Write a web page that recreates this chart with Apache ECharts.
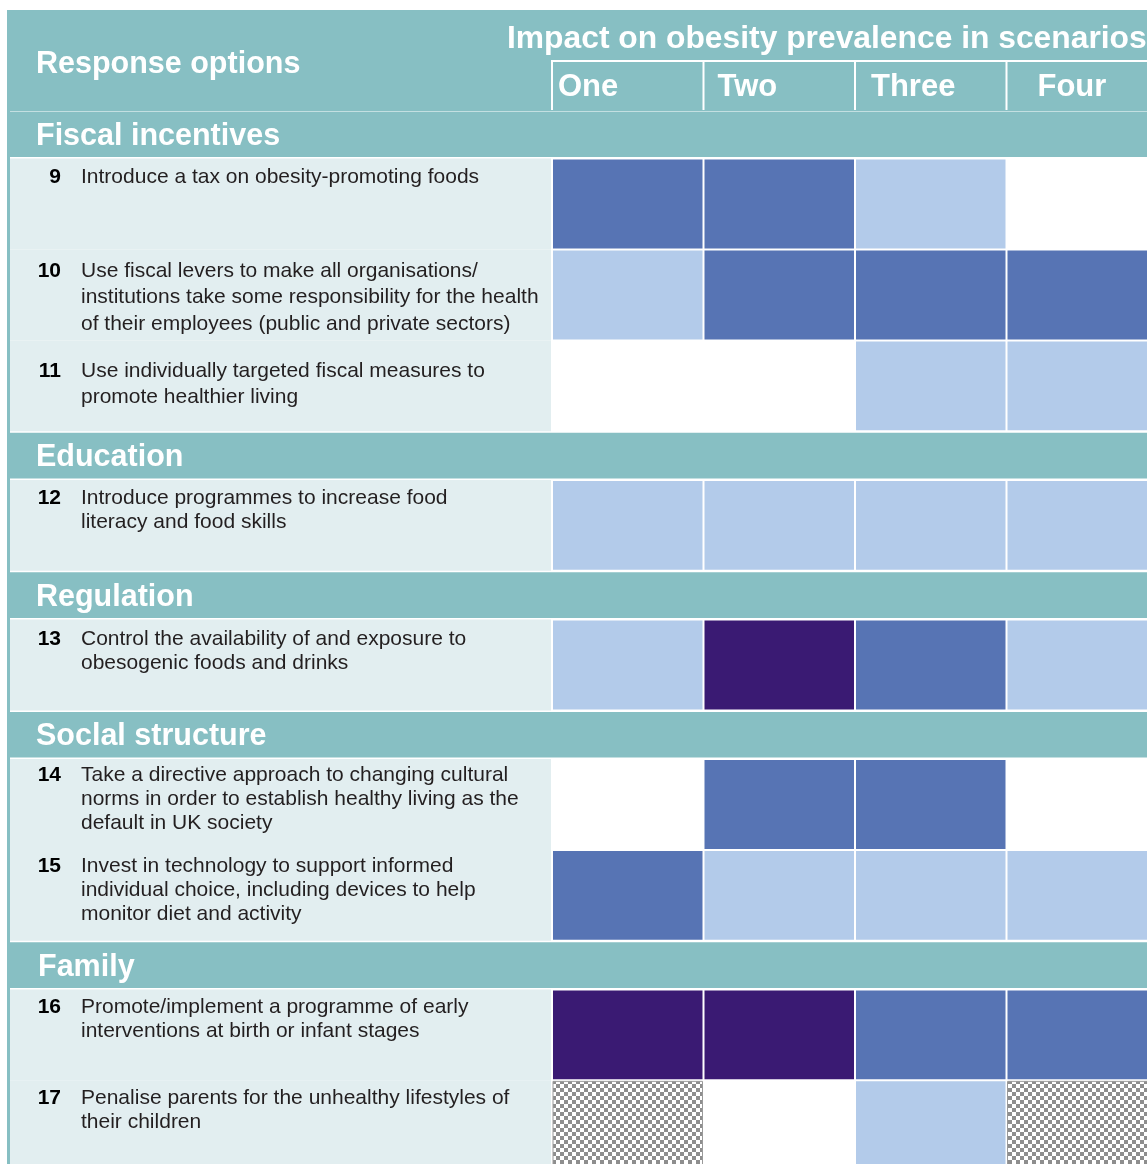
<!DOCTYPE html>
<html><head><meta charset="utf-8">
<script src="https://cdn.jsdelivr.net/npm/echarts@6/dist/echarts.min.js"></script>
<style>html,body{margin:0;padding:0;background:#fff}#c{width:1147px;height:1164px}</style>
</head><body><div id="c"></div>
<script>
// ---------------- DATA ----------------
const scenarios = ['One', 'Two', 'Three', 'Four'];
const tableTitle = 'Response options';
const impactTitle = 'Impact on obesity prevalence in scenarios';
const groups = ['Fiscal incentives', 'Education', 'Regulation', 'Soclal structure', 'Family'];
const optionNumbers = ['9', '10', '11', '12', '13', '14', '15', '16', '17'];
const optionGroup = [0, 0, 0, 1, 2, 3, 3, 4, 4];
const optionTexts = [
  'Introduce a tax on obesity-promoting foods',
  'Use fiscal levers to make all organisations/\ninstitutions take some responsibility for the health\nof their employees (public and private sectors)',
  'Use individually targeted fiscal measures to\npromote healthier living',
  'Introduce programmes to increase food\nliteracy and food skills',
  'Control the availability of and exposure to\nobesogenic foods and drinks',
  'Take a directive approach to changing cultural\nnorms in order to establish healthy living as the\ndefault in UK society',
  'Invest in technology to support informed\nindividual choice, including devices to help\nmonitor diet and activity',
  'Promote/implement a programme of early\ninterventions at birth or infant stages',
  'Penalise parents for the unhealthy lifestyles of\ntheir children'
];
// impact level: 0 = none, 1 = some, 2 = significant, 3 = strong, -1 = adverse (hatched)
const impactOne   = [2, 1, 0, 1, 1, 0, 2, 3, -1];
const impactTwo   = [2, 2, 0, 1, 3, 2, 1, 3, 0];
const impactThree = [1, 2, 1, 1, 2, 2, 1, 2, 1];
const impactFour  = [0, 2, 1, 1, 1, 0, 1, 2, -1];

// ---------------- STYLE / LAYOUT ----------------
const impacts = [impactOne, impactTwo, impactThree, impactFour];
const TEAL = '#87bfc3', PANEL = '#e2eef0', TEXT = '#231f20';
const levelColor = { 0: null, 1: '#b3cbea', 2: '#5774b4', 3: '#3a1a73' };
const FONT = '"Liberation Sans", Arial, sans-serif';
const HEADER_U = 1.1, SECTION_U = 0.535, ITEM_U = 1, UNIT_PX = 90.9;
const firstLineOffset = [18, 21, 30, 18, 19, 16, 16, 17, 17];
const scenarioLabelInset = [6, 14, 16, 31];

const pattern = (function () {
  const cv = document.createElement('canvas');
  cv.width = 8; cv.height = 8;
  const g = cv.getContext('2d');
  g.fillStyle = '#fff'; g.fillRect(0, 0, 8, 8);
  g.fillStyle = '#8e8e8e'; g.fillRect(0, 0, 4, 4); g.fillRect(4, 4, 4, 4);
  return { image: cv, repeat: 'repeat' };
})();

// build row layout (in y units)
const rows = [];
let pos = 0;
rows.push({ kind: 'header', start: pos, end: pos + HEADER_U }); pos += HEADER_U;
let lastGroup = -1;
optionNumbers.forEach((n, i) => {
  if (optionGroup[i] !== lastGroup) {
    lastGroup = optionGroup[i];
    rows.push({ kind: 'section', label: groups[lastGroup], group: lastGroup, start: pos, end: pos + SECTION_U });
    pos += SECTION_U;
  }
  rows.push({ kind: 'item', item: i, group: optionGroup[i], start: pos, end: pos + ITEM_U });
  pos += ITEM_U;
});
const totalU = pos;
const itemRow = {};
rows.forEach(r => { if (r.kind === 'item') itemRow[r.item] = r; });

function frameItem(params, api) {
  const r = rows[params.dataIndex];
  const W = api.getWidth();
  const y0 = api.coord([0, r.start])[1], y1 = api.coord([0, r.end])[1];
  const bw = api.size([1, 0])[0];
  const ch = [];
  if (r.kind === 'header') {
    ch.push({ type: 'rect', shape: { x: 7, y: y0, width: W - 7, height: y1 - y0 + 1 }, style: { fill: TEAL } });
    ch.push({ type: 'rect', shape: { x: 7, y: y0, width: 3, height: api.getHeight() }, style: { fill: TEAL }, z2: 50 });
    ch.push({ type: 'text', x: 36, y: y0 + 55, style: { text: tableTitle, fill: '#fff', font: 'bold 30.5px ' + FONT, align: 'left', verticalAlign: 'middle' } });
    ch.push({ type: 'text', x: 507, y: y0 + 29, style: { text: impactTitle, fill: '#fff', font: 'bold 31.8px ' + FONT, align: 'left', verticalAlign: 'middle' } });
    const subTop = y0 + 51;
    const firstStart = api.coord([0, 0])[0] - bw / 2;
    ch.push({ type: 'line', shape: { x1: firstStart - 1, y1: subTop, x2: W, y2: subTop }, style: { stroke: '#fff', lineWidth: 2 } });
    scenarios.forEach((s, k) => {
      const bs = api.coord([k, 0])[0] - bw / 2;
      ch.push({ type: 'line', shape: { x1: bs, y1: subTop, x2: bs, y2: y1 }, style: { stroke: '#fff', lineWidth: 2 } });
      ch.push({ type: 'text', x: bs + scenarioLabelInset[k], y: y0 + 77, style: { text: s, fill: '#fff', font: 'bold 31px ' + FONT, align: 'left', verticalAlign: 'middle' } });
    });
  } else if (r.kind === 'section') {
    ch.push({ type: 'rect', shape: { x: 10, y: y0 + 1.5, width: W - 10, height: y1 - y0 - 3 }, style: { fill: TEAL } });
    ch.push({ type: 'text', x: r.group === 4 ? 38 : 36, y: (y0 + y1) / 2 + 2, style: { text: r.label, fill: '#fff', font: 'bold 30.5px ' + FONT, align: 'left', verticalAlign: 'middle' } });
  } else {
    const lx = api.coord([0, 0])[0] - bw / 2 - 1;
    ch.push({ type: 'rect', shape: { x: 10, y: y0, width: lx - 10, height: y1 - y0 }, style: { fill: PANEL } });
    const lh = r.group === 0 ? 26.5 : 24;
    const fy = y0 + firstLineOffset[r.item] + 0.5;
    ch.push({ type: 'text', x: 61, y: fy, style: { text: optionNumbers[r.item], fill: '#000', font: 'bold 21px ' + FONT, align: 'right', verticalAlign: 'middle' } });
    ch.push({ type: 'text', x: 81, y: fy - lh / 2, style: { text: optionTexts[r.item], fill: TEXT, font: '21px ' + FONT, lineHeight: lh, align: 'left', verticalAlign: 'top' } });
  }
  return { type: 'group', children: ch };
}

const cellData = [];
impacts.forEach((arr, s) => arr.forEach((v, i) => cellData.push([s, i, v])));

function cellItem(params, api) {
  const s = api.value(0), i = api.value(1), v = api.value(2);
  const r = itemRow[i];
  const bw = api.size([1, 0])[0];
  const cx = api.coord([s, r.start])[0];
  const y0 = api.coord([s, r.start])[1], y1 = api.coord([s, r.end])[1];
  const shape = { x: cx - bw / 2 + 1, y: y0 + 1, width: bw - 2, height: y1 - y0 - 2 };
  if (v === 0) return null;
  if (v < 0) return { type: 'rect', shape, style: { fill: pattern, stroke: '#9a9a9a', lineWidth: 1 } };
  return { type: 'rect', shape, style: { fill: levelColor[v] } };
}

const chart = echarts.init(document.getElementById('c'), null, { renderer: 'canvas' });
chart.setOption({
  backgroundColor: '#fff',
  animation: false,
  grid: { left: 552, top: 10, width: 606, height: totalU * UNIT_PX, outerBoundsMode: 'none', containLabel: false },
  xAxis: { type: 'category', data: scenarios, show: false, boundaryGap: true },
  yAxis: { type: 'value', inverse: true, min: 0, max: totalU, show: false },
  series: [
    { type: 'custom', name: 'frame', renderItem: frameItem, data: rows.map((r, i) => [0, i]), z: 1, silent: true },
    { type: 'custom', name: 'impact', renderItem: cellItem, data: cellData, encode: { x: 0, y: 1 }, z: 2, silent: true }
  ]
});
</script></body></html>
